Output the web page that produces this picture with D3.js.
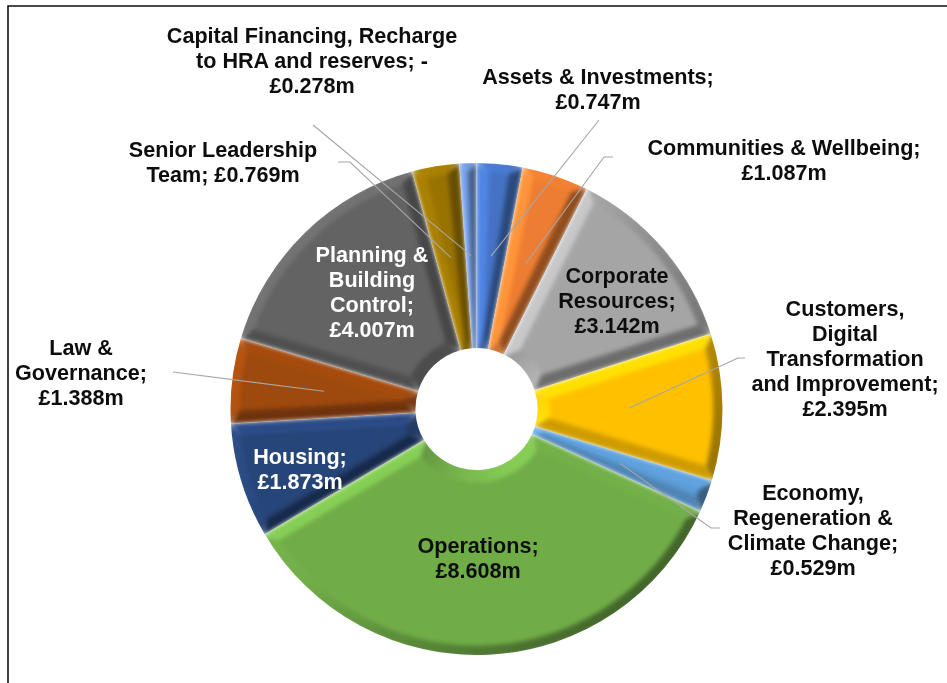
<!DOCTYPE html>
<html><head><meta charset="utf-8">
<script src="https://cdn.jsdelivr.net/npm/d3@7/dist/d3.min.js"></script>
<style>html,body{margin:0;padding:0;background:#fff;overflow:hidden}svg{display:block}</style>
</head><body><svg id="c" width="947" height="683"></svg>
<script>
const categories = ["Assets & Investments","Communities & Wellbeing","Corporate Resources","Customers, Digital Transformation and Improvement","Economy, Regeneration & Climate Change","Operations","Housing","Law & Governance","Planning & Building Control","Senior Leadership Team","Capital Financing, Recharge to HRA and reserves"];
const values = [0.747,1.087,3.142,2.395,0.529,8.608,1.873,1.388,4.007,0.769,0.278];
const colors = ["#4472C4","#ED7D31","#A5A5A5","#FFC000","#5B9BD5","#70AD47","#264478","#9E480E","#636363","#997300","#698ED0"];
const labelLines = [
 ["Assets & Investments;","£0.747m"],
 ["Communities & Wellbeing;","£1.087m"],
 ["Corporate","Resources;","£3.142m"],
 ["Customers,","Digital","Transformation","and Improvement;","£2.395m"],
 ["Economy,","Regeneration &","Climate Change;","£0.529m"],
 ["Operations;","£8.608m"],
 ["Housing;","£1.873m"],
 ["Law &","Governance;","£1.388m"],
 ["Planning &","Building","Control;","£4.007m"],
 ["Senior Leadership","Team; £0.769m"],
 ["Capital Financing, Recharge","to HRA and reserves; -","£0.278m"]
];
const labelColors = ["#111","#111","#111","#111","#111","#111","#fff","#111","#fff","#111","#111"];
const labelPos = [[598,84],[784,155],[617,283],[845,316],[813,500],[478,553],[300,464],[81,355],[372,262],[223,157],[312,43]];
const leaderPts = [[[599,120]],[[613,157],[604,157]],null,[[745,358],[738,358]],[[720,528],[711,528]],null,null,[[173,372]],null,[[338,162],[350,162]],[[313,125]]];

const cx=476.5, cy=409, R=246, r0=61, fs=21.6, lh=25;
const bevel=12, bevelOuter=9, light=[-0.8,-0.6];
const svg=d3.select("#c");
const defs=svg.append("defs");
const blurF=defs.append("filter").attr("id","facet").attr("x","-10%").attr("y","-10%").attr("width","120%").attr("height","120%").attr("color-interpolation-filters","sRGB");
blurF.append("feGaussianBlur").attr("stdDeviation",2);
const soft=defs.append("filter").attr("id","soft").attr("x","-2%").attr("y","-2%").attr("width","104%").attr("height","104%");
soft.append("feGaussianBlur").attr("stdDeviation",0.45);

svg.append("rect").attr("width",947).attr("height",683).attr("fill","#fff");
const root=svg.append("g").attr("filter","url(#soft)");
root.append("path").attr("d","M947,6H8V683").attr("fill","none").attr("stroke","#111").attr("stroke-width",1.6);

const pie=d3.pie().value(d=>d).sort(null)(values);
const arc=d3.arc().innerRadius(r0).outerRadius(R);
const g=root.append("g").attr("transform",`translate(${cx},${cy})`);
const P=(a,r)=>d3.pointRadial(a,r);
const poly=pts=>d3.line()(pts)+"Z";
function shade(col,n,up,down){
  const s=(n[0]*light[0]+n[1]*light[1])-0.15;
  const c=d3.rgb(col);
  return (s>0?c.brighter(s*up):c.darker(-s*down)).formatHex();
}
pie.forEach((d,i)=>{
  const col=colors[i];
  const id="clip"+i;
  defs.append("clipPath").attr("id",id).append("path").attr("d",arc(d)).attr("transform",`translate(${cx},${cy})`);
  const sg=g.append("g").attr("transform",`translate(${-cx},${-cy})`).attr("clip-path",`url(#${id})`)
    .append("g").attr("filter","url(#facet)").attr("transform",`translate(${cx},${cy})`);
  const a0=d.startAngle,a1=d.endAngle,mid=(a0+a1)/2;
  const rO=R-bevelOuter, rI=r0+bevel;
  const off=r=>Math.asin(bevel/r);
  const ins=(r)=>{const o=off(r);return a0+o<a1-o?[a0+o,a1-o]:[mid,mid];};
  const [o0,o1]=ins(rO), [n0,n1]=ins(rI);
  const facets=[];
  const seg=Math.max(2,Math.ceil((a1-a0)/0.035));
  const ts=d3.range(seg+1).map(k=>k/seg);
  const lerp=(x,y,t)=>x+(y-x)*t;
  const centre=[...ts.map(t=>P(lerp(o0,o1,t),rO)),...ts.slice().reverse().map(t=>P(lerp(n0,n1,t),rI))];
  facets.push({pts:centre,fill:col});
  ts.slice(0,-1).forEach((t,k)=>{
    const t2=ts[k+1], am=lerp(a0,a1,(t+t2)/2);
    const nr=[Math.sin(am),-Math.cos(am)];
    facets.push({pts:[P(lerp(a0,a1,t),R+3),P(lerp(a0,a1,t2),R+3),P(lerp(o0,o1,t2),rO),P(lerp(o0,o1,t),rO)],fill:shade(col,nr,0.5,1.3)});
    facets.push({pts:[P(lerp(a0,a1,t),r0-3),P(lerp(a0,a1,t2),r0-3),P(lerp(n0,n1,t2),rI),P(lerp(n0,n1,t),rI)],fill:shade(col,[-nr[0],-nr[1]],0.55,0.8)});
  });
  facets.push({pts:[P(a0,R),P(o0,rO),P(n0,rI),P(a0,r0)],fill:shade(col,[-Math.cos(a0),-Math.sin(a0)],0.65,1.2)});
  facets.push({pts:[P(a1,R),P(o1,rO),P(n1,rI),P(a1,r0)],fill:shade(col,[Math.cos(a1),Math.sin(a1)],0.65,1.2)});
  sg.selectAll("path").data(facets).join("path")
    .attr("d",o=>poly(o.pts)).attr("fill",o=>o.fill).attr("stroke",o=>o.fill).attr("stroke-width",0.7);
});

const line=d3.line();
root.append("g").selectAll("path").data(pie.map((d,i)=>({d,i})).filter(o=>leaderPts[o.i])).join("path")
 .attr("fill","none").attr("stroke","#a6a6a6").attr("stroke-width",1.1)
 .attr("d",o=>{const c=arc.centroid(o.d);return line([...leaderPts[o.i],[c[0]+cx,c[1]+cy]]);});

const t=root.append("g").attr("font-family","'Liberation Sans',Arial,sans-serif").attr("font-weight",700).attr("font-size",fs).attr("text-anchor","middle");
labelLines.forEach((ls,i)=>{
 const e=t.append("text").attr("fill",labelColors[i]);
 ls.forEach((s,j)=>e.append("tspan").attr("x",labelPos[i][0]).attr("y",labelPos[i][1]+j*lh).text(s));
});
</script></body></html>
